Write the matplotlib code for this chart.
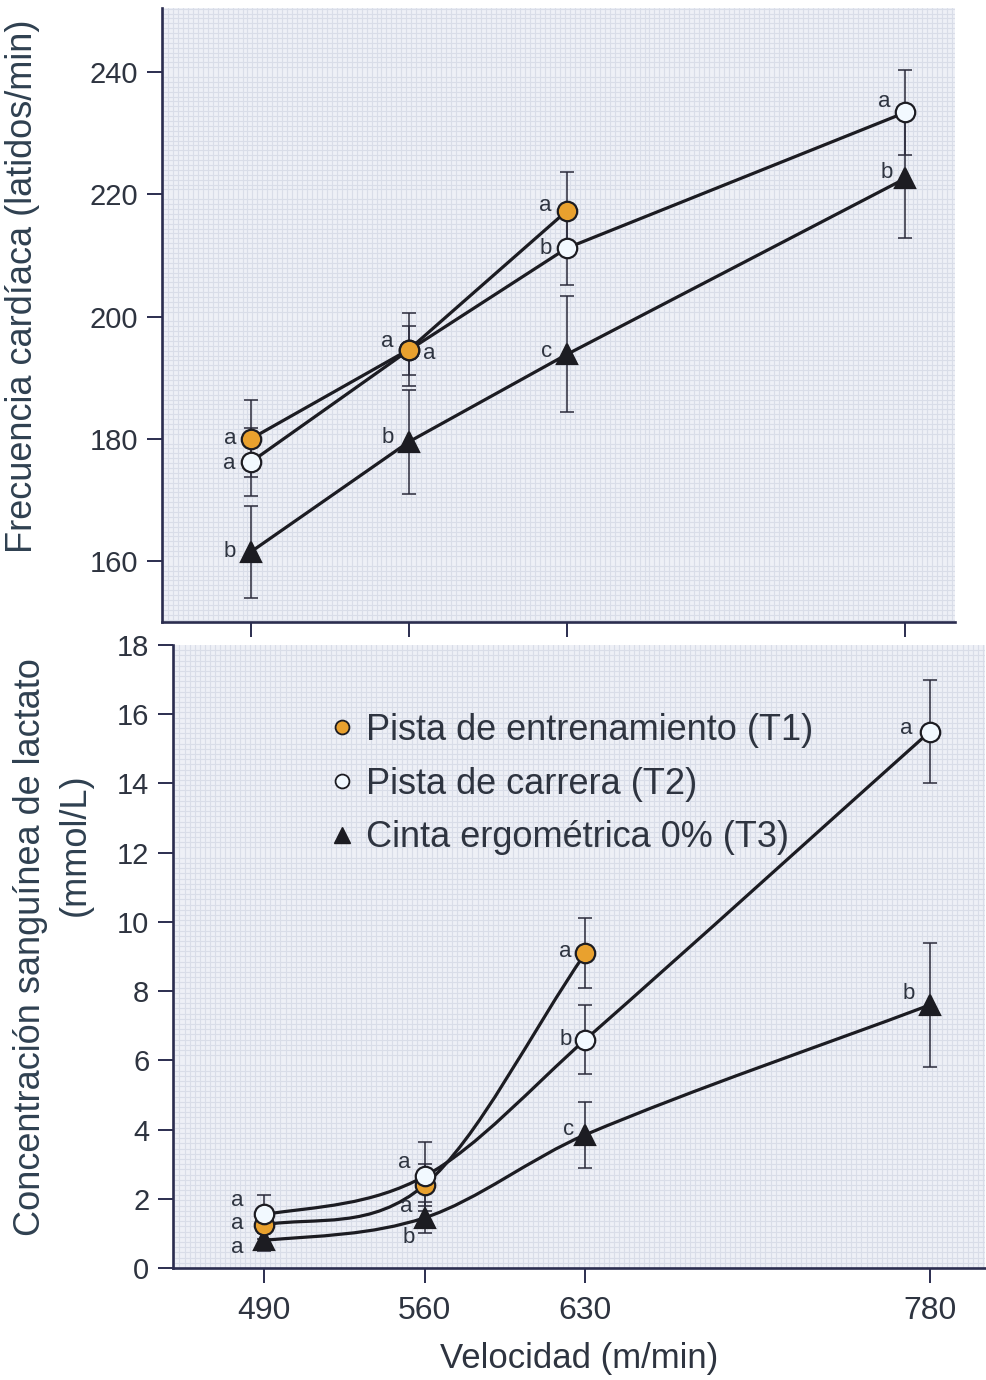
import numpy as np
import matplotlib
matplotlib.use("Agg")
import matplotlib.pyplot as plt
from matplotlib.path import Path
from matplotlib.patches import PathPatch
from matplotlib.lines import Line2D
from matplotlib.ticker import MultipleLocator
from matplotlib import font_manager

plt.rcParams['font.family'] = ['Liberation Sans', 'DejaVu Sans']
names = {f.name for f in font_manager.fontManager.ttflist}
tick_family = 'Liberation Sans Narrow' if 'Liberation Sans Narrow' in names else 'Liberation Sans'

# velocidades
vel_t1 = [490, 560, 630]
vel = [490, 560, 630, 780]

# frecuencia cardiaca (latidos/min)
fc_t1 = [180.0, 194.6, 217.3]
fc_t1_err = [6.3, 6.0, 6.3]
fc_t2 = [176.2, 194.5, 211.2, 233.4]
fc_t2_err = [5.5, 4.0, 6.0, 6.9]
fc_t3 = [161.5, 179.5, 193.8, 222.6]
fc_t3_err = [7.5, 8.5, 9.5, 9.7]
fc_let_t1 = ['a', 'a', 'a']
fc_let_t2 = ['a', 'a', 'b', 'a']
fc_let_t3 = ['b', 'b', 'c', 'b']

# lactato (mmol/L)
la_t1 = [1.25, 2.4, 9.1]
la_t1_err = [0.4, 0.6, 1.0]
la_t2 = [1.55, 2.65, 6.6, 15.5]
la_t2_err = [0.55, 1.0, 1.0, 1.5]
la_t3 = [0.8, 1.45, 3.85, 7.6]
la_t3_err = [0.3, 0.45, 0.95, 1.8]
la_let_t1 = ['a', 'a', 'a']
la_let_t2 = ['a', 'a', 'b', 'a']
la_let_t3 = ['a', 'b', 'c', 'b']

legend_labels = ['Pista de entrenamiento (T1)', 'Pista de carrera (T2)',
                 'Cinta ergométrica 0% (T3)']

# posiciones de las letras (pixeles)
off_fc_t1 = [(-21, 0), (-22, 8), (-22, 5)]
off_fc_t2 = [(-22, -2), (20, -3), (-21, 0), (-21, 11)]
off_fc_t3 = [(-21, 0), (-21, 4), (-20, 3), (-19, 6)]
off_la_t1 = [(-27, 1), (-18, -22), (-20, 2)]
off_la_t2 = [(-27, 14), (-20, 14), (-20, 0), (-24, 3)]
off_la_t3 = [(-27, -7), (-16, -20), (-17, 5), (-21, 11)]

ORANGE = '#e9a12e'
WHITE = '#f2f9ff'
INK = '#1c1c22'
SPINE = '#2b2d4f'
TXT = '#2e3440'
BG = '#eef0f6'


def smooth_path(x, y):
    # curva suave (bezier) que pasa por los puntos
    x = np.asarray(x, float)
    y = np.asarray(y, float)
    n = len(x)
    m = np.zeros(n)
    for i in range(n):
        if i == 0:
            m[i] = (y[1] - y[0]) / (x[1] - x[0]) * 0.6
        elif i == n - 1:
            m[i] = (y[-1] - y[-2]) / (x[-1] - x[-2])
        else:
            m[i] = (y[i + 1] - y[i - 1]) / (x[i + 1] - x[i - 1])
    verts = [(x[0], y[0])]
    codes = [Path.MOVETO]
    for i in range(n - 1):
        h = x[i + 1] - x[i]
        verts += [(x[i] + h / 3, y[i] + m[i] * h / 3),
                  (x[i + 1] - h / 3, y[i + 1] - m[i + 1] * h / 3),
                  (x[i + 1], y[i + 1])]
        codes += [Path.CURVE4] * 3
    return Path(verts, codes)


def style_axes(ax, xlim, ylim, yticks, ysize, show_xlabels):
    ax.set_facecolor(BG)
    ax.set_xlim(*xlim)
    ax.set_ylim(*ylim)
    ax.spines['top'].set_visible(False)
    ax.spines['right'].set_visible(False)
    for s in ['left', 'bottom']:
        ax.spines[s].set_color(SPINE)
        ax.spines[s].set_linewidth(1.9)
    ax.set_xticks(vel)
    ax.set_yticks(yticks)
    ax.tick_params(axis='both', which='major', direction='out', length=11,
                   width=1.4, color=SPINE, labelcolor=TXT)
    ax.tick_params(axis='y', pad=6)
    ax.tick_params(axis='x', pad=9)
    for lab in ax.get_yticklabels():
        lab.set_fontfamily(tick_family)
        lab.set_fontsize(ysize)
    if show_xlabels:
        for lab in ax.get_xticklabels():
            lab.set_fontfamily(tick_family)
            lab.set_fontsize(23)
    else:
        ax.set_xticklabels([])
    # trama de fondo
    ax.xaxis.set_minor_locator(MultipleLocator(2.2))
    ax.tick_params(which='minor', length=0)
    ax.grid(which='minor', axis='x', color='#d9dde8', lw=0.8)
    ax.grid(which='minor', axis='y', color='#d9dde8', lw=0.8)
    ax.set_axisbelow(True)


def letters(ax, xs, ys, labs, offs):
    for x, y, t, o in zip(xs, ys, labs, offs):
        ax.annotate(t, (x, y), xytext=o, textcoords='offset pixels',
                    ha='center', va='center', fontsize=16, color=TXT, zorder=6)


def series(ax, xs, ys, err, marker, face, ms, z, smooth):
    if smooth:
        ax.add_patch(PathPatch(smooth_path(xs, ys), fill=False, lw=2.3,
                               edgecolor=INK, zorder=2))
    else:
        ax.plot(xs, ys, color=INK, lw=2.3, zorder=2)
    ax.errorbar(xs, ys, yerr=err, fmt='none', ecolor='#2a2a3a', elinewidth=1.1,
                capsize=5, capthick=1.1, zorder=1.5)
    ax.plot(xs, ys, ls='none', marker=marker, ms=ms, mfc=face, mec=INK,
            mew=1.6, zorder=z)


fig = plt.figure(figsize=(9.87, 13.8), dpi=100)
fig.patch.set_facecolor('white')

# ---- frecuencia cardiaca ----
ax1 = fig.add_axes([0.1641, 0.5493, 0.8034, 0.4449])
style_axes(ax1, (450.5, 802), (150, 250.5), [160, 180, 200, 220, 240], 21, False)
ax1.yaxis.set_minor_locator(MultipleLocator(0.8))
series(ax1, vel, fc_t3, fc_t3_err, '^', INK, 15, 4, False)
series(ax1, vel, fc_t2, fc_t2_err, 'o', WHITE, 14, 4, False)
series(ax1, vel_t1, fc_t1, fc_t1_err, 'o', ORANGE, 14, 5, False)
letters(ax1, vel_t1, fc_t1, fc_let_t1, off_fc_t1)
letters(ax1, vel, fc_t2, fc_let_t2, off_fc_t2)
letters(ax1, vel, fc_t3, fc_let_t3, off_fc_t3)
ax1.set_ylabel('Frecuencia cardíaca (latidos/min)', fontsize=26, color='#2f4050')
ax1.yaxis.set_label_coords(-0.154, 0.546)

# ---- lactato ----
ax2 = fig.add_axes([0.1753, 0.0812, 0.8227, 0.4514])
style_axes(ax2, (450.4, 804), (0, 18), list(range(0, 19, 2)), 21, True)
ax2.yaxis.set_minor_locator(MultipleLocator(0.15))
series(ax2, vel, la_t3, la_t3_err, '^', INK, 15, 4, True)
series(ax2, vel_t1, la_t1, la_t1_err, 'o', ORANGE, 14, 4, True)
series(ax2, vel, la_t2, la_t2_err, 'o', WHITE, 14, 5, True)
letters(ax2, vel_t1, la_t1, la_let_t1, off_la_t1)
letters(ax2, vel, la_t2, la_let_t2, off_la_t2)
letters(ax2, vel, la_t3, la_let_t3, off_la_t3)

ax2.text(-0.176, 0.515, 'Concentración sanguínea de lactato', transform=ax2.transAxes,
         rotation=90, ha='center', va='center', fontsize=26, color='#2f4050')
ax2.text(-0.121, 0.679, '(mmol/L)', transform=ax2.transAxes,
         rotation=90, ha='center', va='center', fontsize=26, color='#2f4050')
ax2.set_xlabel('Velocidad (m/min)', fontsize=25, color=TXT, labelpad=12)

handles = [Line2D([], [], ls='none', marker='o', ms=10, mfc=ORANGE, mec=INK, mew=1.3),
           Line2D([], [], ls='none', marker='o', ms=10, mfc=WHITE, mec=INK, mew=1.3),
           Line2D([], [], ls='none', marker='^', ms=12, mfc=INK, mec=INK)]
leg = ax2.legend(handles, legend_labels, loc='upper left', bbox_to_anchor=(0.173, 0.92),
                 frameon=False, fontsize=26, handlelength=0.6, handletextpad=0.35,
                 labelspacing=0.52, borderpad=0)
for t in leg.get_texts():
    t.set_color(TXT)

fig.savefig('out.png', dpi=100, facecolor='white')
